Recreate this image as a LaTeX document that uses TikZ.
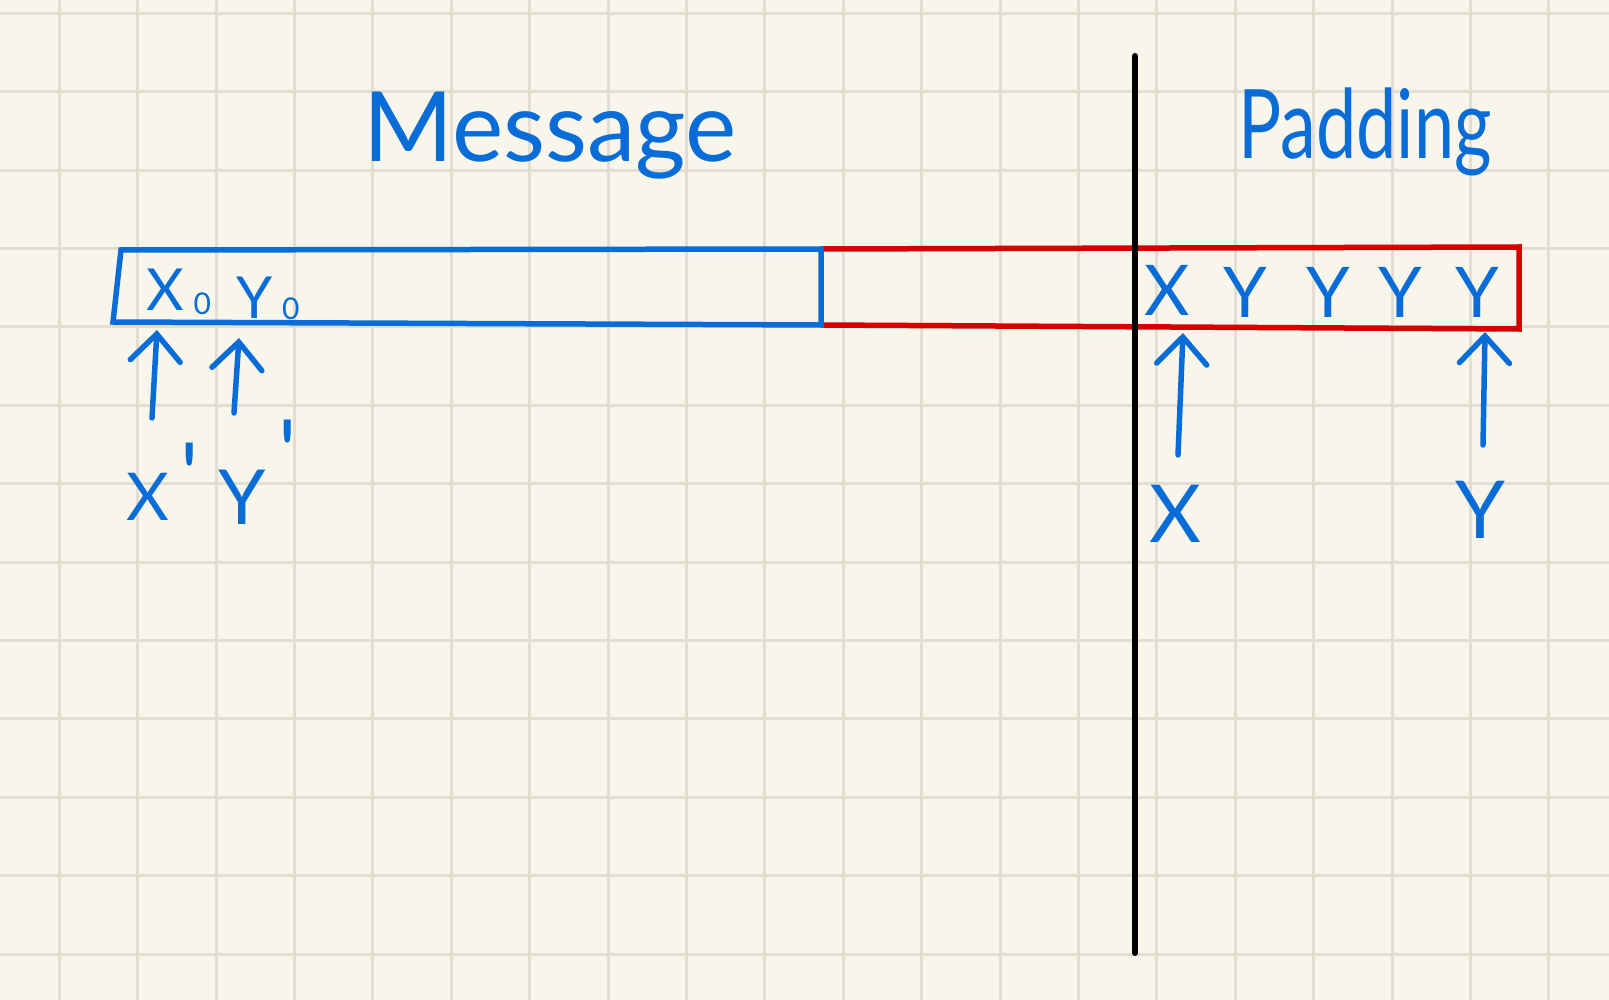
\documentclass[tikz,border=0pt]{standalone}
\usepackage{fontspec}
\setmainfont{Lato}
\usetikzlibrary{arrows.meta}
\definecolor{paper}{RGB}{248,246,235}
\definecolor{gridc}{RGB}{226,223,210}
\definecolor{ink}{RGB}{10,108,214}
\definecolor{redink}{RGB}{214,0,0}
\newcommand{\subz}[1]{\raisebox{#1}{\fontsize{30}{30}\selectfont 0}}
\newcommand{\primemark}[1]{\raisebox{#1}{\fontsize{90}{90}\selectfont\textquotesingle}}
\begin{document}
\begin{tikzpicture}[x=1pt,y=-1pt,
  lbl/.style={text=ink,inner sep=0pt,font=\fontsize{58}{60}\selectfont},
  lblb/.style={text=ink,inner sep=0pt,font=\fontsize{80}{80}\selectfont},
  title/.style={text=ink,inner sep=0pt,font=\fontsize{#1}{#1}\selectfont},
  gridline/.style={draw=gridc,line width=3pt},
  bluebox/.style={draw=ink,line width=5.5pt,line join=miter},
  redbox/.style={draw=redink,line width=5.5pt,line join=miter},
  divider/.style={draw=black,line width=6pt,line cap=round},
  ptr/.style={draw=ink,line width=5.5pt,line cap=round,
    -{Straight Barb[length=27pt,width=50pt,line cap=round]}}]
\useasboundingbox (0,0) rectangle (1609,1000);
\fill[paper] (0,0) rectangle (1609,1000);
% grid
\foreach \i in {0,...,19} \draw[gridline] ({59.3+78.4*\i},0) -- ({59.3+78.4*\i},1000);
\foreach \j in {0,...,12} \draw[gridline] (0,{13.3+78.4*\j}) -- (1609,{13.3+78.4*\j});
% corners
\coordinate (b1) at (121,250);
\coordinate (b2) at (113,322);
\coordinate (b3) at (821,325);
\coordinate (b4) at (821,249);
\coordinate (r1) at (1519,247);
\coordinate (r2) at (1519,329);
\coordinate (dtop) at (1135,56);
\coordinate (dbot) at (1135,953);
% boxes
\draw[redbox] (b4) -- (r1) -- (r2) -- (b3);
\draw[bluebox] (b4) -- (b1) -- (b2) -- (b3) -- cycle;
% divider
\draw[divider] (dtop) -- (dbot);
% titles
\node[title=97,anchor=base] (msg) at (550,162) {Message};
\node[title=96,anchor=base] (pad) at (1365,159) {\scalebox{0.75}[1]{Padding}};
% labels in boxes
\node[lbl,anchor=base west] (x0) at (146,311) {X\,\subz{-4pt}};
\node[lbl,anchor=base west] (y0) at (236,319) {Y\,\subz{-1pt}};
\node[title=70] (px) at (1167,290) {X};
\node[title=70] (py1) at (1245,292) {Y};
\node[title=70] (py2) at (1328,292) {Y};
\node[title=70] (py3) at (1400,292) {Y};
\node[title=70] (py4) at (1477,292) {Y};
% labels below
\node[title=66,anchor=base west] (xp) at (126,520) {X\,\primemark{13pt}};
\node[title=76,anchor=base west] (yp) at (218,524) {Y\,\primemark{40pt}};
\node[lblb] (lx) at (1175,514) {X};
\node[lblb] (ly) at (1480,510) {Y};
% arrows
\coordinate (a1s) at (152,418); \coordinate (a1e) at (157,330);
\coordinate (a2s) at (234,413); \coordinate (a2e) at (239,338);
\coordinate (a3s) at (1178,455); \coordinate (a3e) at (1183,333);
\coordinate (a4s) at (1483,445); \coordinate (a4e) at (1485,332);
\draw[ptr] (a1s) -- (a1e);
\draw[ptr] (a2s) -- (a2e);
\draw[ptr] (a3s) -- (a3e);
\draw[ptr] (a4s) -- (a4e);
\end{tikzpicture}
\end{document}
